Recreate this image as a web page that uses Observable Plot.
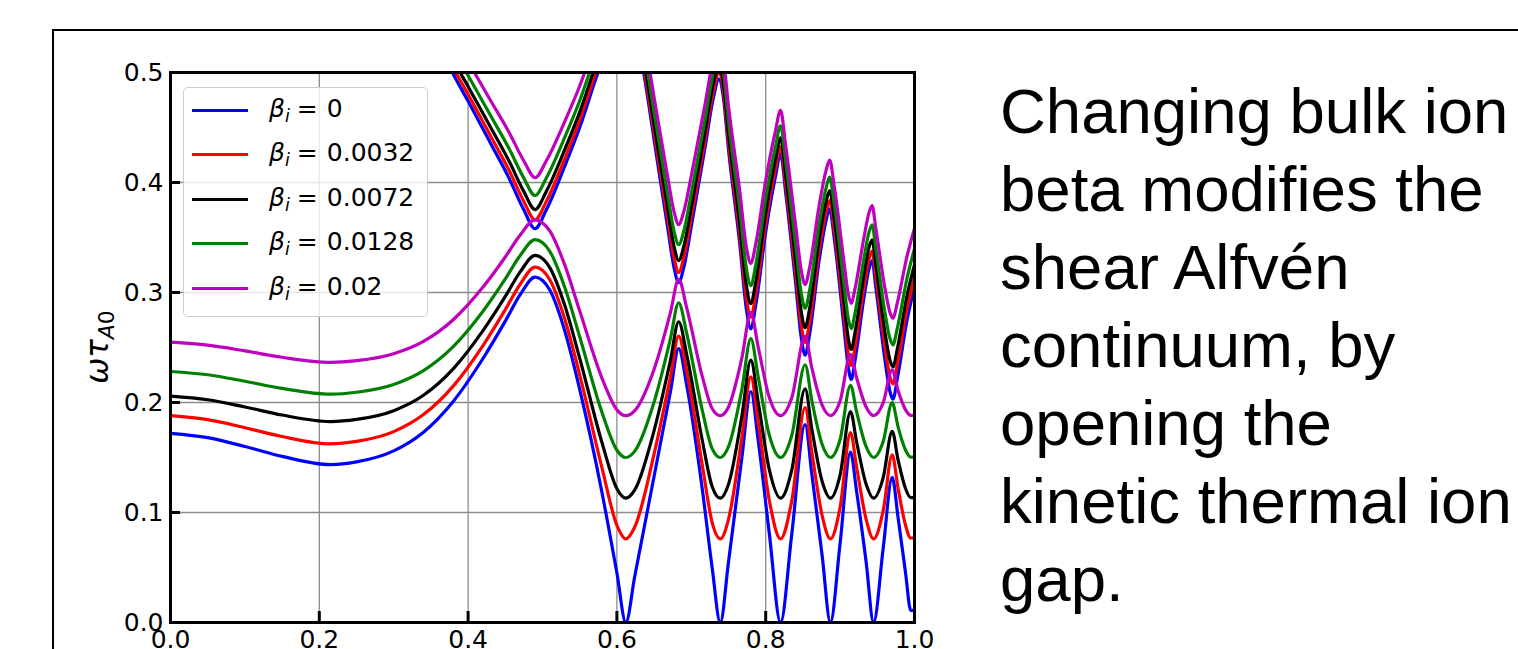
<!DOCTYPE html>
<html>
<head>
<meta charset="utf-8">
<script src="https://cdn.jsdelivr.net/npm/d3@7"></script>
<script src="https://cdn.jsdelivr.net/npm/@observablehq/plot@0.6"></script>
<style>
html,body{margin:0;padding:0;background:#fff;}
#page{position:relative;width:1518px;height:649px;overflow:hidden;background:#fff;}
#frame{position:absolute;left:52px;top:29px;width:1700px;height:900px;border:2px solid #000;box-sizing:border-box;}
#chart{position:absolute;left:0;top:0;}
#ylabel{position:absolute;left:100px;top:347px;transform:translate(-50%,-50%) rotate(-90deg);font-family:"DejaVu Sans",sans-serif;font-size:31px;white-space:nowrap;color:#000;line-height:1;}
#ylabel sub{font-size:0.7em;vertical-align:-0.25em;}
#legend{position:absolute;left:183px;top:87px;width:245px;height:230px;box-sizing:border-box;border:1px solid #cccccc;border-radius:5px;background:rgba(255,255,255,0.8);}
.row{position:absolute;left:0;height:30px;display:flex;align-items:center;font-family:"DejaVu Sans",sans-serif;font-size:25px;color:#000;white-space:nowrap;}
.swatch{margin-left:8px;width:56px;height:3px;}
.lab{margin-left:21px;}
.lab sub{font-size:0.7em;vertical-align:-0.3em;}
.eq{padding:0 9px 0 7px;}
#note{position:absolute;left:1000px;top:72px;font-family:"Liberation Sans",Arial,sans-serif;font-size:63.5px;line-height:78px;white-space:nowrap;color:#000;}
</style>
</head>
<body>
<div id="page">
  <div id="frame"></div>
  <div id="chart"></div>
  <div id="ylabel"><i>ω</i><i>τ</i><sub><i>A</i>0</sub></div>
  <div id="legend"></div>
  <div id="note">Changing bulk ion<br>beta modifies the<br>shear Alfvén<br>continuum, by<br>opening the<br>kinetic thermal ion<br>gap.</div>
</div>
<script>
// ---- data ----
const betaLabels = ["0", "0.0032", "0.0072", "0.0128", "0.02"];
const xTicks = [0, 0.2, 0.4, 0.6, 0.8, 1.0];
const xTickLabels = ["0.0", "0.2", "0.4", "0.6", "0.8", "1.0"];
const yTicks = [0, 0.1, 0.2, 0.3, 0.4, 0.5];
const yTickLabels = ["0.0", "0.1", "0.2", "0.3", "0.4", "0.5"];

// lower continuum branch
const xLower = [0, 0.05, 0.10, 0.15, 0.215, 0.25, 0.30, 0.34, 0.38, 0.42, 0.45, 0.47, 0.49, 0.51, 0.53, 0.55, 0.58, 0.60,
  0.612, 0.624, 0.65, 0.672, 0.683, 0.694, 0.715, 0.728, 0.739, 0.75, 0.768, 0.78, 0.79, 0.805, 0.82, 0.835, 0.853, 0.862,
  0.876, 0.887, 0.90, 0.914, 0.922, 0.935, 0.945, 0.958, 0.970, 0.978, 0.988, 0.995, 1.0];
const lowerBeta0 = [0.172, 0.168, 0.160, 0.151, 0.1435, 0.146, 0.156, 0.173, 0.201, 0.240, 0.274, 0.298, 0.314, 0.302, 0.265, 0.212, 0.118, 0.045,
  0, 0.042, 0.133, 0.21, 0.249, 0.215, 0.12, 0.05, 0, 0.055, 0.15, 0.21, 0.165, 0.08, 0, 0.08, 0.18, 0.135,
  0.06, 0, 0.072, 0.155, 0.12, 0.055, 0, 0.068, 0.132, 0.095, 0.045, 0.011, 0.011];
const lowerBeta1 = [0.1881, 0.1844, 0.1771, 0.1691, 0.1624, 0.1646, 0.1735, 0.1890, 0.2149, 0.2518, 0.2844, 0.3075, 0.3231, 0.3114, 0.2757, 0.2252, 0.1404, 0.0883,
  0.0760, 0.0868, 0.1532, 0.2233, 0.2603, 0.2281, 0.1421, 0.0910, 0.0760, 0.0938, 0.1682, 0.2233, 0.1817, 0.1104, 0.0760, 0.1104, 0.1954, 0.1549,
  0.0968, 0.0760, 0.1047, 0.1726, 0.1421, 0.0938, 0.0760, 0.1020, 0.1523, 0.1217, 0.0883, 0.0768, 0.0768];
const lowerBeta2 = [0.2058, 0.2025, 0.1959, 0.1886, 0.1827, 0.1846, 0.1926, 0.2066, 0.2306, 0.2653, 0.2964, 0.3187, 0.3337, 0.3224, 0.2881, 0.2402, 0.1634, 0.1216,
  0.1130, 0.1205, 0.1745, 0.2385, 0.2734, 0.2429, 0.1648, 0.1236, 0.1130, 0.1257, 0.1878, 0.2385, 0.2000, 0.1385, 0.1130, 0.1385, 0.2125, 0.1761,
  0.1279, 0.1130, 0.1340, 0.1918, 0.1648, 0.1257, 0.1130, 0.1319, 0.1738, 0.1476, 0.1216, 0.1135, 0.1135];
const lowerBeta3 = [0.2282, 0.2252, 0.2193, 0.2128, 0.2076, 0.2093, 0.2164, 0.2290, 0.2508, 0.2830, 0.3124, 0.3336, 0.3480, 0.3372, 0.3045, 0.2597, 0.1909, 0.1566,
  0.1500, 0.1558, 0.2005, 0.2581, 0.2907, 0.2622, 0.1921, 0.1581, 0.1500, 0.1598, 0.2121, 0.2581, 0.2230, 0.1700, 0.1500, 0.1700, 0.2343, 0.2018,
  0.1616, 0.1500, 0.1664, 0.2157, 0.1921, 0.1598, 0.1500, 0.1647, 0.1998, 0.1776, 0.1566, 0.1504, 0.1504];
const lowerBeta4 = [0.2548, 0.2521, 0.2469, 0.2411, 0.2365, 0.2380, 0.2443, 0.2555, 0.2752, 0.3049, 0.3323, 0.3523, 0.3660, 0.3557, 0.3249, 0.2833, 0.2220, 0.1933,
  0.1880, 0.1926, 0.2303, 0.2819, 0.3120, 0.2856, 0.2230, 0.1945, 0.1880, 0.1959, 0.2405, 0.2819, 0.2501, 0.2043, 0.1880, 0.2043, 0.2603, 0.2314,
  0.1973, 0.1880, 0.2013, 0.2436, 0.2230, 0.1959, 0.1880, 0.1999, 0.2297, 0.2106, 0.1933, 0.1883, 0.1883];

// upper branch around the first gap
const xUpperA = [0.365, 0.379, 0.40, 0.43, 0.455, 0.475, 0.49, 0.505, 0.53, 0.55, 0.572, 0.585];
const upperABeta0 = [0.52, 0.50, 0.474, 0.436, 0.404, 0.375, 0.358, 0.375, 0.415, 0.450, 0.495, 0.52];
const upperABeta1 = [0.5255, 0.5057, 0.4801, 0.4426, 0.4111, 0.3826, 0.3660, 0.3826, 0.4219, 0.4564, 0.5008, 0.5255];
const upperABeta2 = [0.5321, 0.5126, 0.4873, 0.4504, 0.4195, 0.3917, 0.3754, 0.3917, 0.4301, 0.4640, 0.5077, 0.5321];
const upperABeta3 = [0.5412, 0.5220, 0.4972, 0.4611, 0.4309, 0.4039, 0.3882, 0.4039, 0.4413, 0.4743, 0.5172, 0.5412];
const upperABeta4 = [0.5529, 0.5342, 0.5099, 0.4748, 0.4456, 0.4195, 0.4044, 0.4195, 0.4556, 0.4877, 0.5295, 0.5529];

// upper zig-zag branch at the edge
const xUpperB = [0.628, 0.636, 0.652, 0.668, 0.677, 0.683, 0.690, 0.700, 0.718, 0.730, 0.737, 0.743, 0.750, 0.765, 0.774, 0.780, 0.787,
  0.800, 0.813, 0.820, 0.827, 0.840, 0.848, 0.853, 0.859, 0.872, 0.881, 0.886, 0.892, 0.905, 0.911, 0.915, 0.920, 0.932, 0.939, 0.943,
  0.948, 0.960, 0.967, 0.971, 0.977, 0.990, 1.000];
const upperBBeta0 = [0.53, 0.50, 0.43, 0.36, 0.322, 0.309, 0.323, 0.36, 0.43, 0.478, 0.494, 0.478, 0.43, 0.345, 0.285, 0.267, 0.29,
  0.355, 0.405, 0.426, 0.39, 0.31, 0.258, 0.243, 0.262, 0.33, 0.365, 0.376, 0.35, 0.27, 0.232, 0.221, 0.238, 0.295, 0.322, 0.329,
  0.305, 0.24, 0.21, 0.203, 0.222, 0.275, 0.305];
const upperBBeta1 = [0.5354, 0.5057, 0.4367, 0.3679, 0.3309, 0.3182, 0.3318, 0.3679, 0.4367, 0.4840, 0.4998, 0.4840, 0.4367, 0.3533, 0.2950, 0.2776, 0.2998,
  0.3630, 0.4121, 0.4327, 0.3973, 0.3192, 0.2690, 0.2546, 0.2728, 0.3386, 0.3728, 0.3836, 0.3582, 0.2805, 0.2441, 0.2337, 0.2498, 0.3046, 0.3309, 0.3377,
  0.3143, 0.2518, 0.2233, 0.2168, 0.2347, 0.2853, 0.3143];
const upperBBeta2 = [0.5419, 0.5126, 0.4446, 0.3773, 0.3413, 0.3290, 0.3422, 0.3773, 0.4446, 0.4912, 0.5068, 0.4912, 0.4446, 0.3630, 0.3066, 0.2899, 0.3112,
  0.3726, 0.4205, 0.4407, 0.4060, 0.3300, 0.2817, 0.2680, 0.2853, 0.3488, 0.3821, 0.3926, 0.3678, 0.2927, 0.2581, 0.2482, 0.2635, 0.3159, 0.3413, 0.3479,
  0.3253, 0.2653, 0.2385, 0.2323, 0.2491, 0.2973, 0.3253];
const upperBBeta3 = [0.5508, 0.5220, 0.4554, 0.3900, 0.3552, 0.3435, 0.3561, 0.3900, 0.4554, 0.5010, 0.5163, 0.5010, 0.4554, 0.3762, 0.3221, 0.3063, 0.3265,
  0.3854, 0.4319, 0.4516, 0.4179, 0.3444, 0.2984, 0.2856, 0.3019, 0.3625, 0.3946, 0.4048, 0.3808, 0.3089, 0.2763, 0.2671, 0.2813, 0.3309, 0.3552, 0.3616,
  0.3399, 0.2830, 0.2581, 0.2524, 0.2679, 0.3132, 0.3399];
const upperBBeta4 = [0.5624, 0.5342, 0.4693, 0.4061, 0.3729, 0.3617, 0.3737, 0.4061, 0.4693, 0.5136, 0.5286, 0.5136, 0.4693, 0.3929, 0.3414, 0.3265, 0.3456,
  0.4017, 0.4465, 0.4656, 0.4329, 0.3625, 0.3192, 0.3072, 0.3225, 0.3798, 0.4106, 0.4204, 0.3973, 0.3290, 0.2986, 0.2901, 0.3033, 0.3498, 0.3729, 0.3789,
  0.3583, 0.3049, 0.2819, 0.2767, 0.2909, 0.3331, 0.3583];

// ---- build table ----
const seriesColors = ["#0000ff", "#ff0000", "#000000", "#008000", "#bf00bf"];
const lowerSeries = [lowerBeta0, lowerBeta1, lowerBeta2, lowerBeta3, lowerBeta4];
const upperASeries = [upperABeta0, upperABeta1, upperABeta2, upperABeta3, upperABeta4];
const upperBSeries = [upperBBeta0, upperBBeta1, upperBBeta2, upperBBeta3, upperBBeta4];
const rows = [];
betaLabels.forEach((b, i) => {
  [[xLower, lowerSeries[i], "lower"], [xUpperA, upperASeries[i], "upperA"], [xUpperB, upperBSeries[i], "upperB"]]
    .forEach(([xs, ys, br]) => xs.forEach((x, j) => rows.push({x, y: ys[j], beta: b, branch: br})));
});

const gridStyle = {stroke: "#8c8c8c", strokeOpacity: 1, strokeWidth: 1.3};
const chart = Plot.plot({
  width: 930, height: 649,
  marginLeft: 170, marginRight: 16, marginTop: 72, marginBottom: 27,
  x: {domain: [0, 1]},
  y: {domain: [0, 0.5]},
  color: {domain: betaLabels, range: seriesColors},
  style: {fontFamily: "DejaVu Sans", fontSize: "25px", background: "transparent", color: "#000", overflow: "visible"},
  marks: [
    Plot.gridX(xTicks.slice(1, -1), gridStyle),
    Plot.gridY(yTicks.slice(1, -1), gridStyle),
    Plot.line(rows, {x: "x", y: "y", z: d => d.beta + "|" + d.branch, stroke: "beta", strokeWidth: 3.2, curve: "monotone-x", clip: true}),
    Plot.axisX(xTicks, {tickSize: 0, tickPadding: 8, fontSize: 25, label: null, tickFormat: d => xTickLabels[xTicks.indexOf(d)]}),
    Plot.axisY(yTicks, {tickSize: 0, tickPadding: 7, fontSize: 25, label: null, tickFormat: d => yTickLabels[yTicks.indexOf(d)]}),
    Plot.axisX(xTicks, {tickSize: 11, dy: -11, strokeWidth: 3, label: null, tickFormat: () => ""}),
    Plot.axisY(yTicks, {tickSize: 10, dx: 10, strokeWidth: 3, label: null, tickFormat: () => ""}),
    Plot.frame({stroke: "#000", strokeWidth: 3})
  ]
});
document.getElementById("chart").appendChild(chart);

// legend
const legend = document.getElementById("legend");
betaLabels.forEach((b, i) => {
  const row = document.createElement("div");
  row.className = "row";
  row.style.top = (110 + 44.5 * i - 88 - 15) + "px";
  const sw = document.createElement("div");
  sw.className = "swatch";
  sw.style.background = seriesColors[i];
  const lab = document.createElement("span");
  lab.className = "lab";
  lab.innerHTML = "<i>β</i><sub><i>i</i></sub><span class=\"eq\">=</span>" + b;
  row.appendChild(sw);
  row.appendChild(lab);
  legend.appendChild(row);
});
</script>
</body>
</html>
